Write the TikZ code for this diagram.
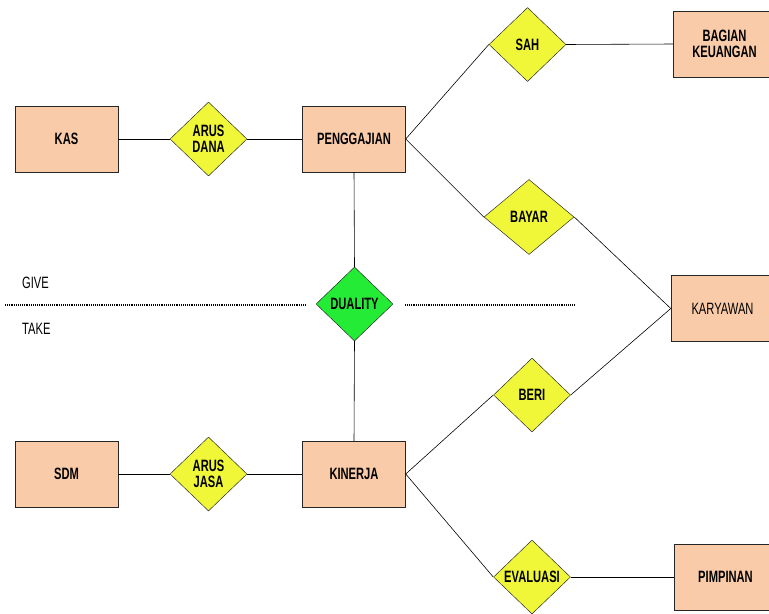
\documentclass[tikz,border=0pt]{standalone}
\usepackage{fontspec}
\newfontfamily\erfont[FakeStretch=0.68]{Liberation Sans}
\usepackage{tikz}
\usetikzlibrary{shapes.geometric}
\definecolor{peach}{RGB}{249,203,168}
\definecolor{lemon}{RGB}{240,246,56}
\definecolor{leaf}{RGB}{36,236,54}

\begin{document}
\begin{tikzpicture}[x=0.03cm,y=-0.03cm,
    entity/.style={draw=black!85,fill=peach,minimum width=3.09cm,minimum height=1.98cm,inner sep=0pt,
        font=\erfont\bfseries\fontsize{14}{14}\selectfont,align=center},
    relation/.style={draw=black!85,fill=lemon,shape=diamond,minimum width=2.31cm,minimum height=2.22cm,inner sep=0pt,
        font=\erfont\bfseries\fontsize{14}{14}\selectfont,align=center},
    link/.style={draw=black,line width=0.5pt},
    split/.style={draw=black,line width=1.6pt,dash pattern=on 0.8pt off 0.8pt},
    side/.style={anchor=west,font=\erfont\fontsize{14}{14}\selectfont}]
  \useasboundingbox (0,0) rectangle (769,613);
  % entitas
  \node[entity] (kas) at (66.5,139) {KAS};
  \node[entity] (gaji) at (354,139) {PENGGAJIAN};
  \node[entity] (sdm) at (66.5,474) {SDM};
  \node[entity] (kinerja) at (354,474) {KINERJA};
  \node[entity] (keu) at (724.5,44) {BAGIAN\\KEUANGAN};
  \node[entity] (karyawan) at (722.5,308.5) {\mdseries KARYAWAN};
  \node[entity] (pimpinan) at (725.5,577) {PIMPINAN};
  % relasi
  \node[relation] (dana) at (208.5,139) {ARUS\\DANA};
  \node[relation] (jasa) at (208.5,474) {ARUS\\JASA};
  \node[relation] (sah) at (527.5,44.5) {SAH};
  \node[relation,minimum width=2.7cm,minimum height=2.25cm] (bayar) at (529,217) {BAYAR};
  \node[relation,fill=leaf] (duality) at (354.5,304) {DUALITY};
  \node[relation] (beri) at (532,395) {BERI};
  \node[relation] (evaluasi) at (532,577) {EVALUASI};
  % garis
  \draw[link] (kas) -- (dana) -- (gaji);
  \draw[link] (sdm) -- (jasa) -- (kinerja);
  \draw[link] (gaji.east) -- (sah.west);
  \draw[link] (sah.east) -- (keu.west);
  \draw[link] (gaji.east) -- (bayar.west);
  \draw[link] (bayar.east) -- (karyawan.west);
  \draw[link] (gaji.south) -- (duality.north);
  \draw[link] (duality.south) -- (kinerja.north);
  \draw[link] (kinerja.east) -- (beri.west);
  \draw[link] (beri.east) -- (karyawan.west);
  \draw[link] (kinerja.east) -- (evaluasi.west);
  \draw[link] (evaluasi.east) -- (pimpinan.west);
  % give / take
  \coordinate (l1) at (5,305);
  \coordinate (l2) at (305,305);
  \coordinate (r1) at (405,305);
  \coordinate (r2) at (575,305);
  \draw[split] (l1) -- (l2);
  \draw[split] (r1) -- (r2);
  \node[side] (give) at (18,283) {GIVE};
  \node[side] (take) at (18,329) {TAKE};
\end{tikzpicture}
\end{document}
